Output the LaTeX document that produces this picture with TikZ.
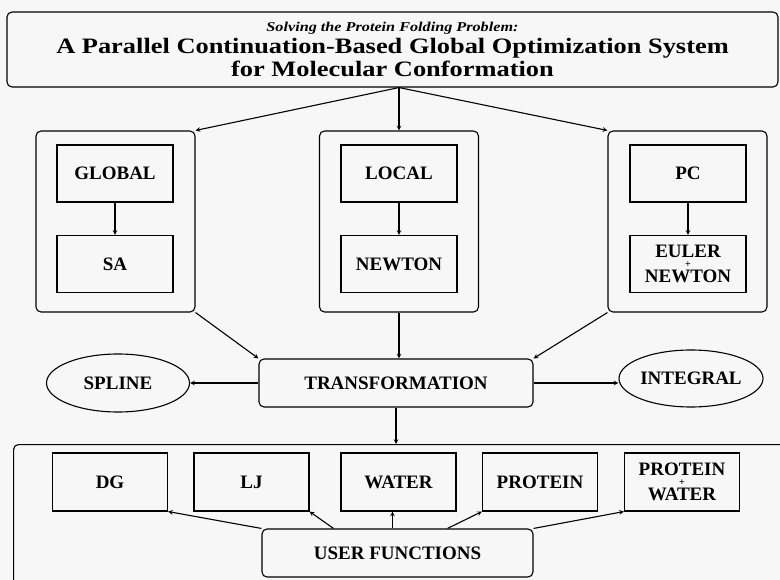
\documentclass[tikz,border=0pt]{standalone}
\usepackage{fontspec}
\setmainfont{Liberation Serif}
\newfontfamily\widefont[FakeStretch=1.2]{Liberation Serif}
\usetikzlibrary{arrows,shapes.geometric,calc}

\begin{document}
\begin{tikzpicture}[x=1pt,y=-1pt,>=stealth]
    \tikzstyle{frame}=[draw, rounded corners=5pt, line width=1.1pt, inner sep=0pt]
    \tikzstyle{box}=[rectangle, draw, line width=1.1pt, minimum width=116pt,
    minimum height=57pt, inner sep=0pt, align=center, font=\fontsize{19}{23}\selectfont\bfseries]
    \tikzstyle{oval}=[ellipse, draw, line width=1.1pt, inner sep=0pt, font=\fontsize{19}{23}\selectfont\bfseries]
    \tikzstyle{link}=[->, line width=1.1pt]

    \useasboundingbox (0,0) rectangle (780,580);
    \fill[black!3] (0,0) rectangle (780,580);
    \clip (0,0) rectangle (780,580);

    % title
    \node[frame, minimum width=771pt, minimum height=75pt, align=center,
    font=\widefont\fontsize{22}{23}\selectfont\bfseries](title) at (392.5,49.5){{\fontsize{13.5}{15}\selectfont\itshape Solving the Protein Folding Problem:}\\[-1pt]
    A Parallel Continuation-Based Global Optimization System\\ for Molecular Conformation};

    % three methods
    \node[frame, minimum width=159pt, minimum height=181pt](gframe) at (115.5,221.5){};
    \node[box](global) at (115,173.5){GLOBAL};
    \node[box](sa) at (115,264){SA};

    \node[frame, minimum width=159pt, minimum height=181pt](lframe) at (399,221.5){};
    \node[box](local) at (399,173.5){LOCAL};
    \node[box](newton) at (399,264){NEWTON};

    \node[frame, minimum width=159pt, minimum height=181pt](pframe) at (687.5,221.5){};
    \node[box](pc) at (688,173.5){PC};
    \node[box](euler) at (688,264){EULER\\[-13pt]{\fontsize{10}{10}\selectfont +}\\[-8pt]NEWTON};

    % transformation row
    \node[oval, minimum width=143pt, minimum height=58pt](spline) at (118,383){SPLINE};
    \node[frame, minimum width=274pt, minimum height=48pt,
    font=\fontsize{19}{23}\selectfont\bfseries](trans) at (396,383){TRANSFORMATION};
    \node[oval, minimum width=144pt, minimum height=57pt](integral) at (691,378.5){INTEGRAL};

    % user functions
    \node[frame, minimum width=800pt, minimum height=200pt, anchor=north west](ufframe) at (13,444){};
    \node[box, minimum width=115pt, minimum height=58pt](dg) at (110,482){DG};
    \node[box, minimum width=115pt, minimum height=58pt](lj) at (251.5,482){LJ};
    \node[box, minimum width=115pt, minimum height=58pt](water) at (398.5,482){WATER};
    \node[box, minimum width=115pt, minimum height=58pt](protein) at (540,482){PROTEIN};
    \node[box, minimum width=115pt, minimum height=58pt](pw) at (682,482){PROTEIN\\[-13pt]{\fontsize{10}{10}\selectfont +}\\[-8pt]WATER};
    \node[frame, minimum width=271pt, minimum height=48pt,
    font=\fontsize{19}{23}\selectfont\bfseries](uf) at (397.5,553){USER FUNCTIONS};

    \coordinate (split) at (title.south -| lframe.north);
    \draw[link] (split) -- (gframe.north east);
    \draw[link] (split) -- (lframe.north);
    \draw[link] (split) -- (pframe.north west);

    \draw[link] (global.south) -- (sa.north);
    \draw[link] (local.south) -- (newton.north);
    \draw[link] (pc.south) -- (euler.north);

    \draw[link] (gframe.south east) -- (trans.north west);
    \draw[link] (lframe.south) -- (lframe.south |- trans.north);
    \draw[link] (pframe.south west) -- (trans.north east);
    \draw[link] (trans.west) -- (spline.east);
    \draw[link] (trans.east) -- (trans.east -| integral.west);
    \draw[link] (trans.south) -- (trans.south |- ufframe.north);

    \draw[link] (uf.north west) -- (dg.south east);
    \draw[link] ([xshift=-64pt]uf.north) -- (lj.south east);
    \draw[link] ([xshift=-5pt]uf.north) -- ([xshift=-5pt]uf.north |- water.south);
    \draw[link] ([xshift=50pt]uf.north) -- (protein.south west);
    \draw[link] (uf.north east) -- (pw.south west);
\end{tikzpicture}
\end{document}
